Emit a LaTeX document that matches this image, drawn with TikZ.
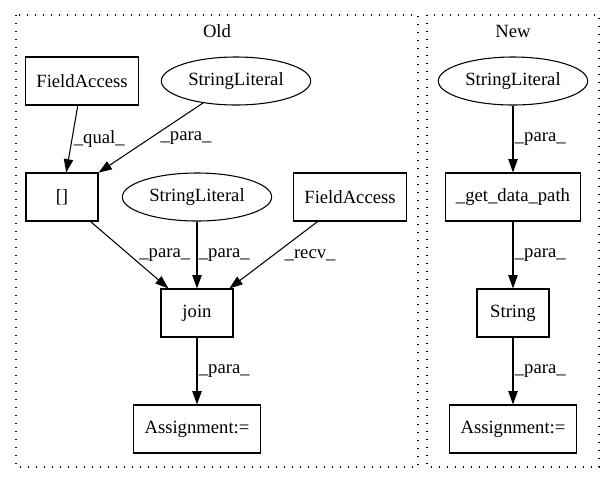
\documentclass[tikz,border=0pt]{standalone}
\usepackage{fontspec}
\setmainfont{Liberation Serif}
\usetikzlibrary{arrows.meta, shapes.geometric}

\begin{document}
\begin{tikzpicture}[x=0.75pt, y=-0.75pt, font=\fontsize{14}{16}\selectfont,
    box/.style={rectangle, draw, line width=0.8pt, minimum width=54pt, minimum height=36pt, inner xsep=8pt},
    oval/.style={ellipse, draw, line width=0.8pt, minimum width=112pt, minimum height=36pt, inner sep=0pt},
    cluster/.style={line width=0.8pt, dash pattern=on 1pt off 5pt},
    arr/.style={-{Triangle[length=10pt, width=7pt]}, line width=0.8pt},
    lbl/.style={inner sep=1pt}]
    \useasboundingbox (0,0) rectangle (615,480);
    % clusters
    \draw[cluster] (16,15) rectangle (418,467);
    \draw[cluster] (427,15) rectangle (599,467);
    \node (oldlbl) at (217,31) {Old};
    \node (newlbl) at (513,31) {New};
    % old
    \node[box] (fa1) at (82,81) {FieldAccess};
    \node[oval] (sl1) at (236,81) {StringLiteral};
    \node[box] (idx) at (62,197) {[]};
    \node[oval] (sl2) at (197,197) {StringLiteral};
    \node[box] (fa2) at (350,197) {FieldAccess};
    \node[box] (join) at (197,313) {join};
    \node[box] (asg1) at (197,429) {Assignment:=};
    \draw[arr] (fa1) -- node[lbl, right] {\_qual\_} (idx);
    \draw[arr] (sl1) -- node[lbl, right=6pt] {\_para\_} (idx);
    \draw[arr] (idx) -- node[lbl, right=6pt] {\_para\_} (join);
    \draw[arr] (sl2) -- node[lbl, right] {\_para\_} (join);
    \draw[arr] (fa2) -- node[lbl, right=7pt] {\_recv\_} (join);
    \draw[arr] (join) -- node[lbl, right] {\_para\_} (asg1);
    % new
    \node[oval] (sl3) at (513,81) {StringLiteral};
    \node[box] (gdp) at (513,197) {\_get\_data\_path};
    \node[box] (str) at (513,313) {String};
    \node[box] (asg2) at (513,429) {Assignment:=};
    \draw[arr] (sl3) -- node[lbl, right] {\_para\_} (gdp);
    \draw[arr] (gdp) -- node[lbl, right] {\_para\_} (str);
    \draw[arr] (str) -- node[lbl, right] {\_para\_} (asg2);
\end{tikzpicture}
\end{document}
